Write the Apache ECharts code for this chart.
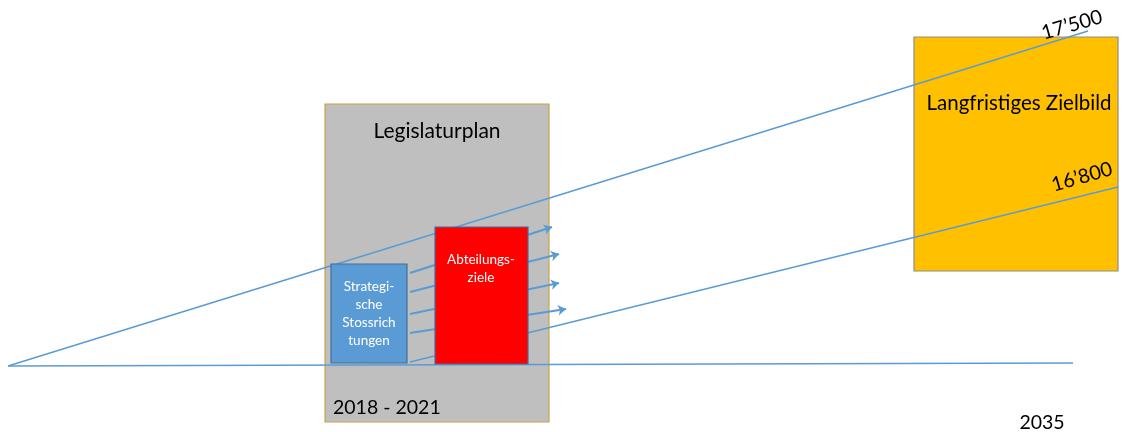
<!DOCTYPE html>
<html lang="de">
<head>
<meta charset="UTF-8">
<title>Legislaturplan</title>
<script src="https://cdn.jsdelivr.net/npm/echarts@6/dist/echarts.min.js"></script>
<style>
  html, body { margin: 0; padding: 0; background: #fff; }
  #main { width: 1123px; height: 432px; }
</style>
</head>
<body>
<div id="main"></div>
<script>
// diagram space: x to the right, y downwards (0..1123 x 0..432)
var backBoxes = [[325, 104, 549, 422], [914, 37, 1118, 271]];   // Legislaturplan, Zielbild
var frontBoxes = [[331, 264, 407, 363], [435, 227, 528, 364]];  // Stossrichtungen, Abteilungsziele
var trendLines = [
    [[8, 366], [1073, 363]],
    [[8, 366], [1088, 31]],
    [[410, 362], [1118, 187]]
];
var arrowLines = [
    [[410, 273], [552, 227]],
    [[410, 292], [559, 254]],
    [[410, 314], [559, 283]],
    [[410, 333], [566, 309]]
];
var boxTexts = [
    [437, 131, 'Legislaturplan'],
    [1019, 103, 'Langfristiges Zielbild'],
    [369, 314, 'Strategi-\nsche\nStossrich\ntungen'],
    [481, 269, 'Abteilungs-\nziele']
];
var valueLabels = [[1072, 25, '17’500'], [1082, 177, '16’800']];
var yearLabels = [[333, 408, '2018 - 2021'], [1042, 423, '2035']];

var FONT = 'Lato, "Open Sans", sans-serif';
var BLUE = '#5b9bd5';

function rectItem(fills, strokes) {
    return function (params, api) {
        var p0 = api.coord([api.value(0), api.value(1)]);
        var p1 = api.coord([api.value(2), api.value(3)]);
        return {
            type: 'rect',
            shape: { x: p0[0], y: p0[1], width: p1[0] - p0[0], height: p1[1] - p0[1] },
            style: { fill: fills[params.dataIndex], stroke: strokes[params.dataIndex], lineWidth: 1.2 }
        };
    };
}

var textStyles = [
    { size: 21, color: '#000' },
    { size: 20.5, color: '#000' },
    { size: 13.5, color: '#fff', lh: 18 },
    { size: 13.5, color: '#fff', lh: 18 }
];

var chart = echarts.init(document.getElementById('main'));
chart.setOption({
    backgroundColor: '#fff',
    animation: false,
    grid: { left: 0, right: 0, top: 0, bottom: 0 },
    xAxis: { type: 'value', min: 0, max: 1123, show: false },
    yAxis: { type: 'value', min: 0, max: 432, inverse: true, show: false },
    series: [
        {
            type: 'custom', z: 1,
            data: backBoxes,
            encode: { x: [0, 2], y: [1, 3] },
            renderItem: rectItem(['#bfbfbf', '#ffc000'], ['#c9a449', '#8c8c8c'])
        },
        {
            type: 'lines', coordinateSystem: 'cartesian2d', z: 2,
            data: trendLines.map(function (c) { return { coords: c }; }),
            lineStyle: { color: BLUE, width: 1.5, opacity: 1 },
            symbol: 'none'
        },
        {
            type: 'lines', coordinateSystem: 'cartesian2d', z: 3,
            data: arrowLines.map(function (c) { return { coords: c }; }),
            lineStyle: { color: BLUE, width: 2.2, opacity: 1 },
            symbol: ['none', 'arrow'],
            symbolSize: 8
        },
        {
            type: 'custom', z: 4,
            data: frontBoxes,
            encode: { x: [0, 2], y: [1, 3] },
            renderItem: rectItem([BLUE, '#ff0000'], ['#41719c', '#41719c'])
        },
        {
            type: 'custom', z: 5,
            data: boxTexts,
            encode: { x: 0, y: 1 },
            renderItem: function (params, api) {
                var p = api.coord([api.value(0), api.value(1)]);
                var s = textStyles[params.dataIndex];
                return {
                    type: 'text',
                    style: {
                        x: p[0], y: p[1], text: boxTexts[params.dataIndex][2],
                        fill: s.color, font: s.size + 'px ' + FONT,
                        lineHeight: s.lh || s.size * 1.2,
                        align: 'center', verticalAlign: 'middle'
                    }
                };
            }
        },
        {
            type: 'custom', z: 5,
            data: valueLabels,
            encode: { x: 0, y: 1 },
            renderItem: function (params, api) {
                var p = api.coord([api.value(0), api.value(1)]);
                return {
                    type: 'text',
                    x: p[0], y: p[1],
                    rotation: 0.28,
                    style: {
                        x: 0, y: 0, text: valueLabels[params.dataIndex][2],
                        fill: '#000', font: '20px ' + FONT,
                        align: 'center', verticalAlign: 'middle'
                    }
                };
            }
        },
        {
            type: 'custom', z: 5,
            data: yearLabels,
            encode: { x: 0, y: 1 },
            renderItem: function (params, api) {
                var p = api.coord([api.value(0), api.value(1)]);
                return {
                    type: 'text',
                    style: {
                        x: p[0], y: p[1], text: yearLabels[params.dataIndex][2],
                        fill: '#000', font: '19.5px ' + FONT,
                        align: params.dataIndex === 0 ? 'left' : 'center', verticalAlign: 'middle'
                    }
                };
            }
        }
    ]
});
</script>
</body>
</html>
